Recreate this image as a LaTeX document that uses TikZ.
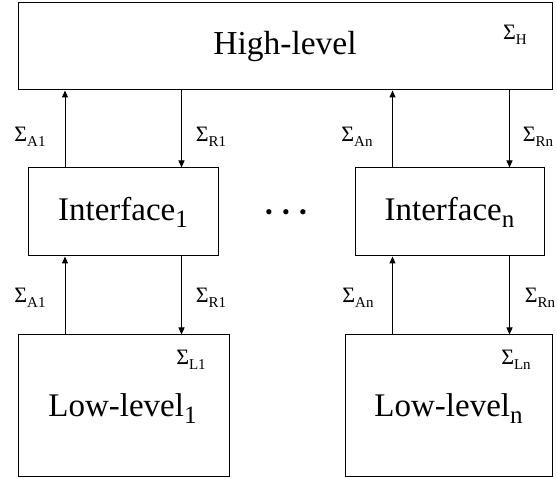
\documentclass[tikz,border=0pt]{standalone}
\usepackage{fontspec}
\setmainfont{Liberation Serif}
\usetikzlibrary{arrows.meta}
\newcommand{\sig}[1]{{\fontsize{22}{22}\selectfont Σ}{\fontsize{15}{15}\selectfont\raisebox{-5pt}{#1}}}
\newcommand{\bigtxt}[2]{{\fontsize{33}{33}\selectfont #1}{\fontsize{25}{25}\selectfont\raisebox{-7pt}{#2}}}
\begin{document}
\begin{tikzpicture}[x=1pt,y=-1pt,
  blk/.style={draw,line width=1pt,inner sep=0pt,font=\fontsize{33.5}{33.5}\selectfont},
  arr/.style={line width=1pt,-{Triangle[length=7pt,width=6pt]}},
  lab/.style={inner sep=0pt}]
\useasboundingbox (0,0) rectangle (557,478);
% boxes
\node[blk,minimum width=534pt,minimum height=87pt] (high) at (285,46.5) {High-level};
\node[blk,minimum width=190pt,minimum height=88pt] (i1) at (123,212) {\bigtxt{Interface}{1}};
\node[blk,minimum width=189pt,minimum height=88pt] (in) at (449.5,212) {\bigtxt{Interface}{n}};
\node[blk,minimum width=211pt,minimum height=141pt] (l1) at (123.5,405.5) {};
\node[blk,minimum width=207pt,minimum height=141pt] (ln) at (448.5,405.5) {};
\node[lab] (l1t) at (122.5,409) {\bigtxt{Low-level}{1}};
\node[lab] (lnt) at (448.5,409) {\bigtxt{Low-level}{n}};
% inner labels
\node[lab] (sh) at (515,35) {\sig{H}};
\node[lab] (sl1) at (191,360) {\sig{L1}};
\node[lab] (sln) at (516,360) {\sig{Ln}};
% dots
\node[lab] (dots) at (286,215) {\fontsize{22}{22}\selectfont\makebox[17pt]{•}\makebox[17pt]{•}\makebox[17pt]{•}};
% arrow x positions
\coordinate (xa1) at (65,0);
\coordinate (xr1) at (181.5,0);
\coordinate (xan) at (392.5,0);
\coordinate (xrn) at (509.5,0);
% upper arrows
\draw[arr] (xa1 |- i1.north) -- (xa1 |- high.south);
\draw[arr] (xr1 |- high.south) -- (xr1 |- i1.north);
\draw[arr] (xan |- in.north) -- (xan |- high.south);
\draw[arr] (xrn |- high.south) -- (xrn |- in.north);
% lower arrows
\draw[arr] (xa1 |- l1.north) -- (xa1 |- i1.south);
\draw[arr] (xr1 |- i1.south) -- (xr1 |- l1.north);
\draw[arr] (xan |- ln.north) -- (xan |- in.south);
\draw[arr] (xrn |- in.south) -- (xrn |- ln.north);
% arrow labels
\node[lab] (ua1) at (30,137) {\sig{A1}};
\node[lab] (ur1) at (211,137) {\sig{R1}};
\node[lab] (uan) at (357,137) {\sig{An}};
\node[lab] (urn) at (538,137) {\sig{Rn}};
\node[lab] (da1) at (30,298) {\sig{A1}};
\node[lab] (dr1) at (211,298) {\sig{R1}};
\node[lab] (dan) at (358,298) {\sig{An}};
\node[lab] (drn) at (540,298) {\sig{Rn}};
\end{tikzpicture}
\end{document}
